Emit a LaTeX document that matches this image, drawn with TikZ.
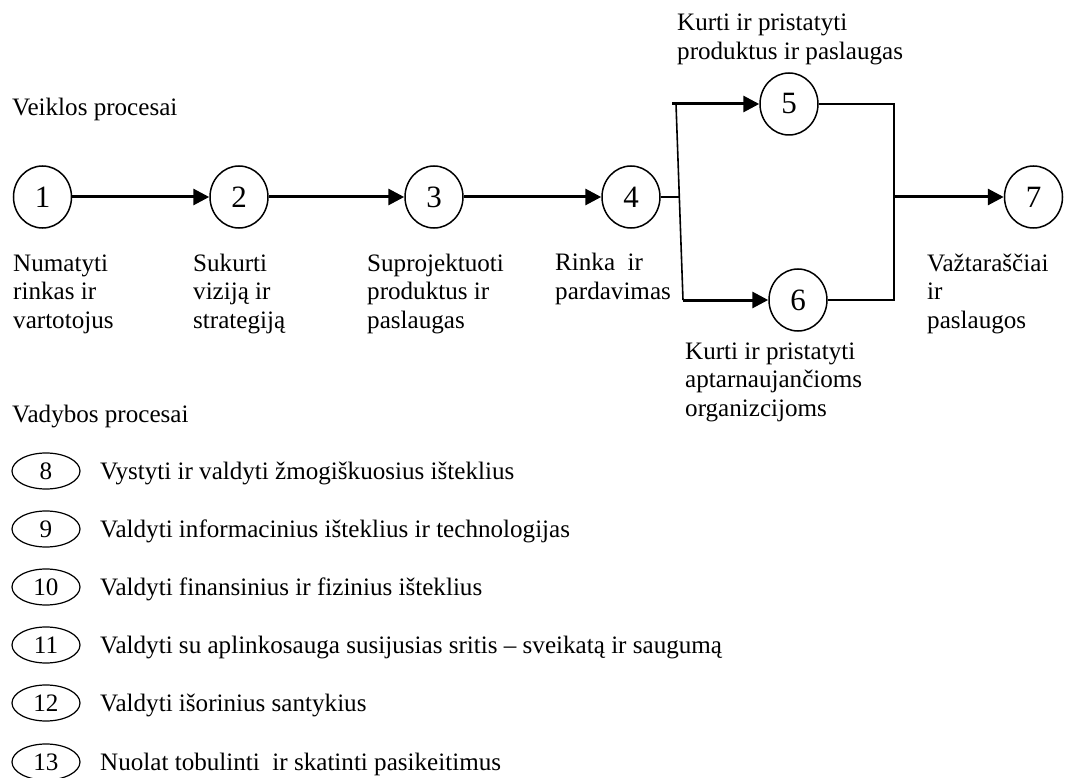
\documentclass[tikz,border=0pt]{standalone}
\usepackage{fontspec}
\setmainfont{Liberation Serif}
\usetikzlibrary{arrows.meta,shapes.geometric}
\tikzset{
  txt/.style={font=\fontsize{25.1}{28.5}\selectfont, inner sep=0pt, anchor=base west, align=left},
  proc/.style={draw, line width=1.5pt, ellipse, minimum width=58pt, minimum height=62pt, inner sep=0pt, font=\fontsize{31}{31}\selectfont},
  mgmt/.style={draw, line width=1.2pt, ellipse, minimum width=68pt, minimum height=36pt, inner sep=0pt, font=\fontsize{25.1}{25.1}\selectfont},
  flow/.style={line width=3pt, -{Triangle[length=16pt,width=16pt]}},
  thin/.style={line width=1.6pt}
}
\begin{document}
\begin{tikzpicture}[x=1pt,y=-1pt]
\path[use as bounding box] (0,0) rectangle (1066,778);
% headings
\node[txt] (hv) at (12,116) {Veiklos procesai};
\node[txt] (hm) at (12,422) {Vadybos procesai};
% process circles
\node[proc] (n1) at (42.5,197) {1};
\node[proc] (n2) at (239,197) {2};
\node[proc] (n3) at (434,197) {3};
\node[proc] (n4) at (631,197) {4};
\node[proc] (n5) at (789,104) {5};
\node[proc] (n6) at (798,300) {6};
\node[proc] (n7) at (1033.5,197) {7};
% labels (anchored at the baseline of their last line)
\node[txt] (l1) at (13,328) {Numatyti\\rinkas ir\\vartotojus};
\node[txt] (l2) at (193,328) {Sukurti\\viziją ir\\strategiją};
\node[txt] (l3) at (367,328) {Suprojektuoti\\produktus ir\\paslaugas};
\node[txt] (l4) at (555,299.5) {Rinka\ \ ir\\pardavimas};
\node[txt] (l5) at (677,59.5) {Kurti ir pristatyti\\produktus ir paslaugas};
\node[txt] (l6) at (685,416) {Kurti ir pristatyti\\aptarnaujančioms\\organizcijoms};
\node[txt] (l7) at (927,328) {Važtaraščiai\\ir\\paslaugos};
% connectors
\draw[flow] (n1) -- (n2);
\draw[flow] (n2) -- (n3);
\draw[flow] (n3) -- (n4);
\coordinate (s4) at (679.5,197);
\coordinate (a5) at (672,104);
\coordinate (t5) at (676,104);
\coordinate (b6) at (683,300);
\coordinate (r5) at (894,104);
\coordinate (r6) at (894,300);
\coordinate (rm) at (894,197);
\draw[thin] (n4) -- (s4);
\draw[thin] (t5) -- (b6);
\draw[flow] (a5) -- (n5);
\draw[flow] (b6) -- (n6);
\draw[thin] (n5) -- (r5) -- (r6) -- (n6);
\draw[flow] (rm) -- (n7);
% management
\node[mgmt] (m8) at (46,471) {8};
\node[mgmt] (m9) at (46,529) {9};
\node[mgmt] (m10) at (46,587) {10};
\node[mgmt] (m11) at (46,645) {11};
\node[mgmt] (m12) at (46,703) {12};
\node[mgmt] (m13) at (46,762) {13};
\node[txt] (t8) at (100,479) {Vystyti ir valdyti žmogiškuosius išteklius};
\node[txt] (t9) at (100,537) {Valdyti informacinius išteklius ir technologijas};
\node[txt] (t10) at (100,595) {Valdyti finansinius ir fizinius išteklius};
\node[txt] (t11) at (100,653) {Valdyti su aplinkosauga susijusias sritis -- sveikatą ir saugumą};
\node[txt] (t12) at (100,711) {Valdyti išorinius santykius};
\node[txt] (t13) at (100,770) {Nuolat tobulinti\ \ ir skatinti pasikeitimus};
\end{tikzpicture}
\end{document}
